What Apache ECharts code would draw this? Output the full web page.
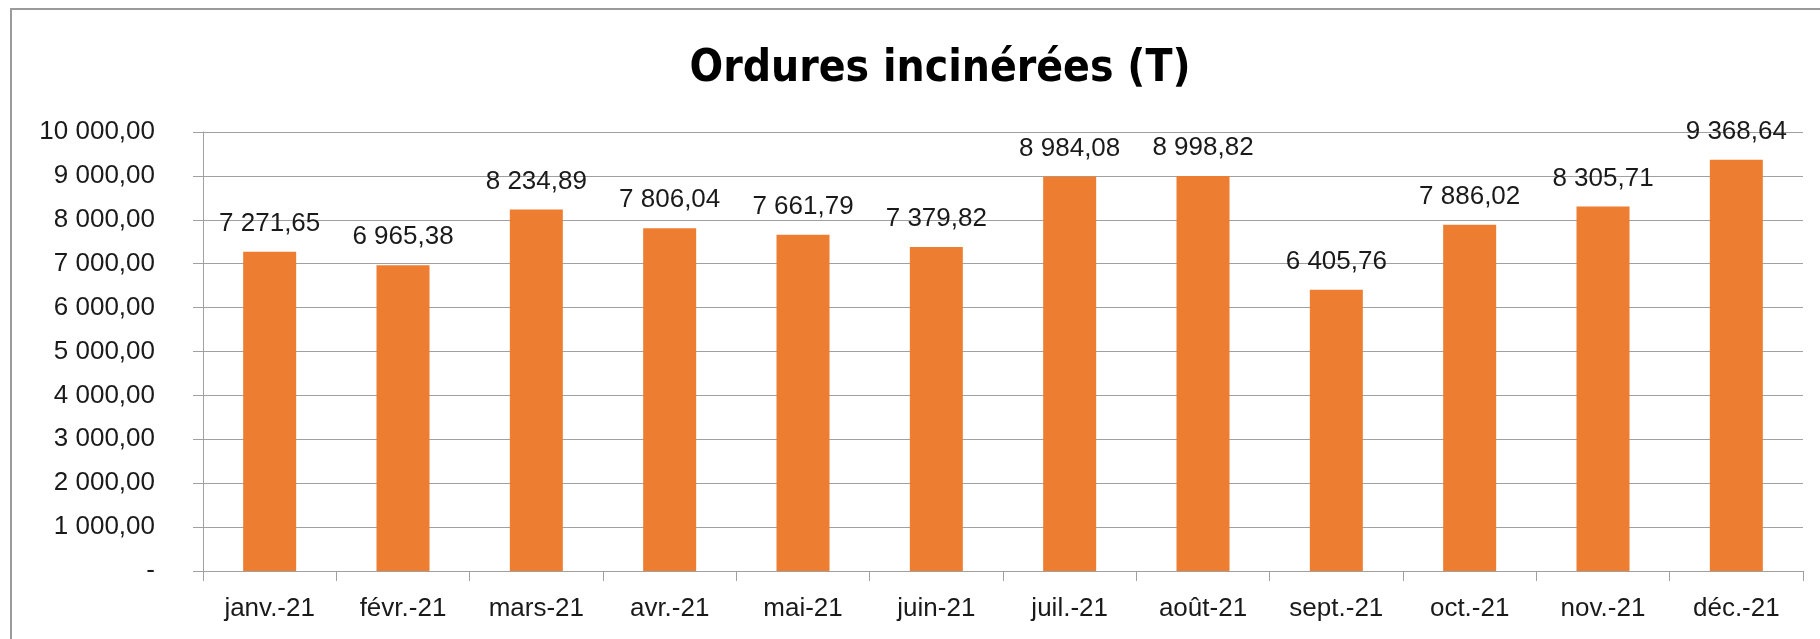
<!DOCTYPE html>
<html>
<head>
<meta charset="utf-8">
<title>Ordures incinérées (T)</title>
<script src="https://cdn.jsdelivr.net/npm/echarts@6/dist/echarts.min.js"></script>
<style>
  html, body { margin: 0; padding: 0; background: #fff; }
  #wrap { position: absolute; left: 0; top: 0; width: 1820px; height: 639px; overflow: hidden; }
  /* cadre gris du graphique (bords droit/bas hors image) */
  #cadre { position: absolute; left: 10px; top: 8px; width: 1900px; height: 700px; border-top: 2px solid #9a9a9a; border-left: 2px solid #9a9a9a; }
  #bar { position: absolute; left: 0; top: 0; width: 1820px; height: 639px; }
</style>
</head>
<body>
<div id="wrap">
  <div id="cadre"></div>
  <div id="bar"></div>
</div>
<script>
const titre = 'Ordures incinérées (T)'
const mois = ['janv.-21', 'févr.-21', 'mars-21', 'avr.-21', 'mai-21', 'juin-21',
  'juil.-21', 'août-21', 'sept.-21', 'oct.-21', 'nov.-21', 'déc.-21']
const tonnes = [7271.65, 6965.38, 8234.89, 7806.04, 7661.79, 7379.82,
  8984.08, 8998.82, 6405.76, 7886.02, 8305.71, 9368.64]
const yMin = 0
const yMax = 10000
const yPas = 1000

const police = '"Liberation Sans", Arial, sans-serif'
const policeTitre = '"DejaVu Sans Condensed", "DejaVu Sans", sans-serif'

// format comptable francais : 7 271,65 et "-" pour zero
function formatFr (v) {
  if (v === 0) return '-'
  const parts = v.toFixed(2).split('.')
  const ent = parts[0].replace(/\B(?=(\d{3})+(?!\d))/g, ' ')
  return ent + ',' + parts[1]
}

const charts = echarts.init(document.getElementById('bar'))
charts.setOption({
  animation: false,
  title: {
    text: titre,
    left: 935,
    textAlign: 'center',
    top: 43,
    textStyle: {
      fontFamily: policeTitre,
      fontWeight: 'bold',
      fontSize: 44,
      color: '#000'
    }
  },
  grid: {
    left: 203,
    right: 17,
    top: 132,
    bottom: 68,
    containLabel: false
  },
  xAxis: {
    type: 'category',
    data: mois,
    boundaryGap: true,
    axisLine: { show: true, lineStyle: { color: '#a0a0a0', width: 1 } },
    axisTick: { show: true, alignWithLabel: false, length: 10, lineStyle: { color: '#a0a0a0' } },
    axisLabel: {
      margin: 25,
      fontFamily: police,
      fontSize: 26,
      color: '#1a1a1a',
      interval: 0
    }
  },
  yAxis: {
    type: 'value',
    min: yMin,
    max: yMax,
    interval: yPas,
    axisLine: { show: true, lineStyle: { color: '#a0a0a0', width: 1 } },
    axisTick: { show: true, length: 10, lineStyle: { color: '#a0a0a0' } },
    splitLine: { show: true, lineStyle: { color: '#a0a0a0', width: 1 } },
    axisLabel: {
      margin: 48,
      fontFamily: police,
      fontSize: 26,
      color: '#1a1a1a',
      formatter: formatFr
    }
  },
  series: [
    {
      name: titre,
      type: 'bar',
      data: tonnes,
      barWidth: 53,
      itemStyle: { color: '#ED7D31' },
      label: {
        show: true,
        position: 'top',
        distance: 15,
        fontFamily: police,
        fontSize: 26,
        color: '#1a1a1a',
        formatter: function (p) { return formatFr(p.value) }
      }
    }
  ]
})
</script>
</body>
</html>
